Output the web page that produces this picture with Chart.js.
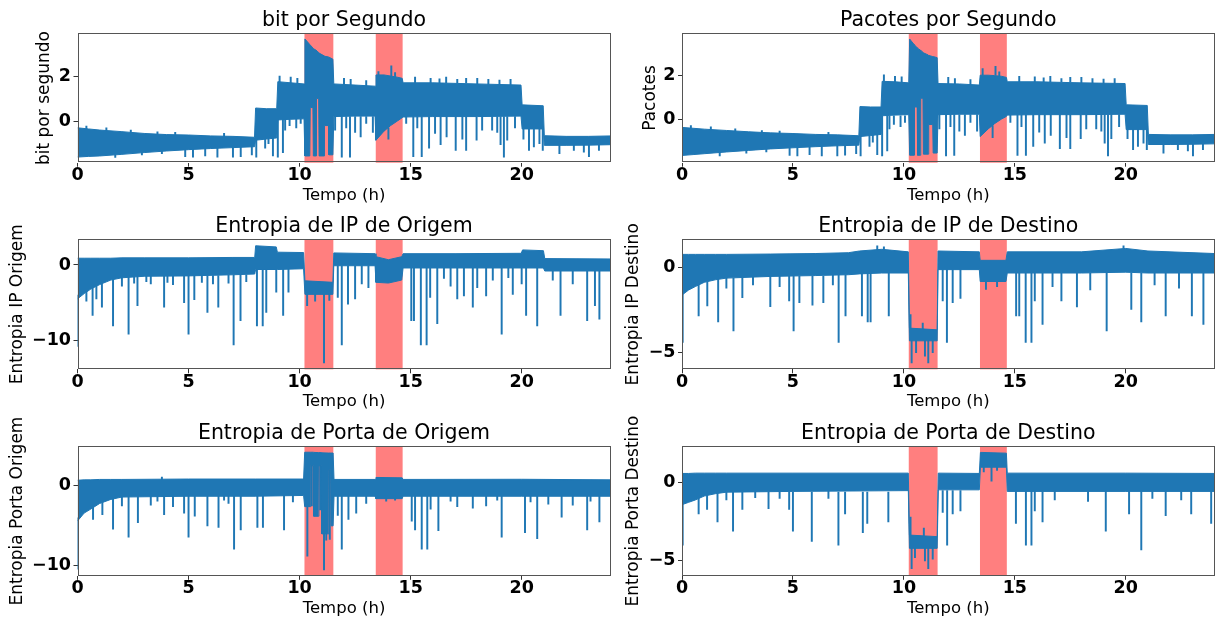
<!DOCTYPE html>
<html>
<head>
<meta charset="utf-8">
<script src="https://cdn.jsdelivr.net/npm/chart.js@4.4.1/dist/chart.umd.min.js"></script>
<style>
    body { margin: 0; background: #fff; width: 1217px; height: 624px; position: relative; overflow: hidden; }
    canvas { position: absolute; }
</style>
</head>
<body>
<canvas id="g1" width="617" height="210" style="left:0;top:0"></canvas>
<canvas id="g2" width="600" height="210" style="left:617px;top:0"></canvas>
<canvas id="g3" width="617" height="205" style="left:0;top:210px"></canvas>
<canvas id="g4" width="600" height="205" style="left:617px;top:210px"></canvas>
<canvas id="g5" width="617" height="209" style="left:0;top:415px"></canvas>
<canvas id="g6" width="600" height="209" style="left:617px;top:415px"></canvas>
<script>
const azul = "#1f77b4";
const faixas = [[10.22, 11.52], [13.43, 14.64]]; // periodos de ataque
const horas = [0, 5, 10, 15, 20];

// banda de ruido: [hora, topo, base]
// picos: [hora, inicio, fim]

// ===== bit por segundo =====
const bitsBanda = [
    [0.00, -0.30, -1.60], [0.50, -0.35, -1.57], [1.00, -0.40, -1.55], [2.00, -0.47, -1.48],
    [3.00, -0.55, -1.40], [4.00, -0.60, -1.33], [5.00, -0.62, -1.27], [6.00, -0.66, -1.22],
    [7.00, -0.68, -1.18], [7.97, -0.72, -1.14], [8.02, 0.58, -0.85], [8.50, 0.55, -0.80],
    [8.97, 0.55, -0.75], [9.02, 1.75, 0.05], [9.60, 1.70, 0.08], [10.20, 1.65, 0.10],
    [10.24, 3.65, -1.55], [10.46, 3.40, -1.55], [10.48, 3.38, 0.60], [10.60, 3.25, 0.60],
    [10.62, 3.22, -1.55], [10.74, 3.15, -1.55], [10.76, 3.12, 1.00], [10.86, 3.05, 1.00],
    [10.88, 3.02, -1.55], [11.10, 2.90, -1.55], [11.12, 2.88, -0.20], [11.30, 2.85, -0.20],
    [11.32, 2.85, -1.50], [11.50, 2.75, -1.50], [11.54, 1.65, 0.20], [12.50, 1.60, 0.22],
    [13.40, 1.55, 0.22], [13.44, 2.05, -0.85], [13.80, 2.05, -0.45], [14.10, 2.00, -0.20],
    [14.40, 1.95, 0.00], [14.62, 1.90, 0.15], [14.66, 1.70, 0.18], [16.00, 1.70, 0.20],
    [18.00, 1.65, 0.20], [19.97, 1.60, 0.22], [20.02, 0.72, -0.35], [20.97, 0.68, -0.35],
    [21.02, -0.65, -1.08], [22.00, -0.68, -1.08], [23.00, -0.68, -1.07], [24.00, -0.66, -1.05]
];
const bitsPicos = [
    [1.70, -1.40, -1.62], [4.85, -1.25, -1.58], [5.20, -1.25, -1.60], [5.75, -1.20, -1.55],
    [6.30, -1.20, -1.60], [7.00, -1.15, -1.60], [7.35, -1.15, -1.58], [7.85, -1.10, -1.50],
    [0.40, -0.50, -0.22], [1.30, -0.50, -0.30], [2.40, -0.60, -0.40], [3.60, -0.70, -0.48],
    [4.40, -0.70, -0.50], [6.60, -0.75, -0.55], [2.90, -1.30, -1.50], [3.80, -1.25, -1.45],
    [8.05, -0.70, -1.60], [8.45, -0.70, -1.20], [8.60, -0.70, -1.00], [8.80, -0.70, -1.55],
    [9.02, 0.10, -1.60], [9.25, 0.10, -1.40], [9.35, 0.10, -0.40], [9.55, 0.10, -0.20],
    [9.85, 0.10, -0.30], [10.05, 0.10, -0.10], [9.10, 1.70, 2.00], [9.60, 1.60, 1.95],
    [9.90, 1.60, 1.90], [11.60, 0.20, -0.40], [11.90, 0.20, -1.60], [12.10, 0.20, -0.30],
    [12.27, 0.20, -1.60], [12.50, 0.20, -0.50], [12.75, 0.20, -0.70], [13.00, 0.20, -0.10],
    [13.30, 0.20, -0.50], [12.00, 1.60, 1.90], [12.30, 1.60, 1.85], [13.00, 1.50, 1.80],
    [14.00, -0.30, -0.80], [13.55, 2.00, 2.20], [14.13, 2.00, 2.45], [14.30, 1.90, 2.15],
    [14.80, 0.20, -0.10], [15.12, 0.20, -1.58], [15.30, 0.20, -0.30], [15.50, 0.20, -1.58],
    [15.83, 0.20, -1.20], [16.10, 0.20, -0.55], [16.35, 0.20, -1.05], [16.62, 0.20, -0.70],
    [17.03, 0.20, -1.30], [17.33, 0.20, -0.80], [17.50, 0.20, -1.30], [17.97, 0.20, -0.85],
    [18.22, 0.20, -0.40], [18.67, 0.20, -0.40], [18.90, 0.20, -0.50], [19.05, 0.20, -1.05],
    [19.20, 0.20, -1.60], [19.35, 0.20, -0.85], [19.70, 0.20, -0.30], [15.20, 1.70, 1.95],
    [15.90, 1.70, 1.90], [16.60, 1.70, 1.95], [17.50, 1.70, 1.90], [18.50, 1.60, 1.85],
    [19.50, 1.60, 1.85], [16.30, 1.70, 1.88], [17.10, 1.70, 1.85], [18.00, 1.60, 1.90],
    [19.00, 1.60, 1.82], [20.08, -0.30, -0.80], [20.33, -0.30, -1.30], [20.55, -0.30, -1.15],
    [20.80, -0.30, -1.00], [20.95, -0.30, -1.30], [21.70, -1.00, -1.45], [22.35, -1.00, -1.30],
    [22.80, -1.00, -1.38], [23.03, -1.00, -1.58], [23.48, -1.00, -1.30]
];

// ===== pacotes por segundo =====
const pacBanda = [
    [0.00, -0.38, -1.66], [0.50, -0.42, -1.62], [1.00, -0.46, -1.58], [2.00, -0.52, -1.50],
    [3.00, -0.58, -1.43], [4.00, -0.63, -1.36], [5.00, -0.66, -1.31], [6.00, -0.70, -1.26],
    [7.00, -0.72, -1.22], [7.97, -0.76, -1.19], [8.02, 0.57, -0.80], [8.50, 0.55, -0.75],
    [8.97, 0.55, -0.70], [9.02, 1.72, 0.15], [9.60, 1.70, 0.18], [10.22, 1.65, 0.20],
    [10.26, 3.65, -1.65], [10.46, 3.40, -1.65], [10.48, 3.38, 0.55], [10.60, 3.25, 0.55],
    [10.62, 3.22, -1.65], [10.74, 3.15, -1.65], [10.76, 3.12, 0.95], [10.86, 3.05, 0.95],
    [10.88, 3.02, -1.60], [11.10, 2.92, -1.60], [11.12, 2.90, -0.25], [11.30, 2.85, -0.25],
    [11.32, 2.85, -1.55], [11.50, 2.80, -1.55], [11.54, 1.62, 0.20], [12.50, 1.60, 0.22],
    [13.40, 1.55, 0.22], [13.44, 2.00, -0.80], [13.80, 2.00, -0.45], [14.10, 1.98, -0.20],
    [14.40, 1.95, 0.00], [14.62, 1.90, 0.12], [14.66, 1.70, 0.18], [16.00, 1.70, 0.20],
    [18.00, 1.65, 0.20], [19.97, 1.62, 0.22], [20.02, 0.65, -0.48], [20.97, 0.62, -0.48],
    [21.02, -0.70, -1.16], [22.00, -0.72, -1.16], [23.00, -0.72, -1.15], [24.00, -0.70, -1.13]
];
const pacPicos = [
    [1.70, -1.45, -1.68], [4.85, -1.30, -1.66], [5.20, -1.30, -1.68], [5.75, -1.25, -1.62],
    [6.30, -1.25, -1.68], [7.00, -1.20, -1.68], [7.35, -1.20, -1.65], [7.85, -1.15, -1.58],
    [0.40, -0.55, -0.30], [1.30, -0.55, -0.36], [2.40, -0.65, -0.45], [3.60, -0.75, -0.52],
    [4.40, -0.75, -0.55], [6.60, -0.80, -0.60], [2.90, -1.35, -1.55], [3.80, -1.30, -1.50],
    [8.05, -0.70, -1.68], [8.45, -0.70, -1.25], [8.60, -0.70, -1.05], [8.80, -0.70, -1.62],
    [9.02, 0.15, -1.68], [9.25, 0.15, -1.45], [9.35, 0.15, -0.45], [9.55, 0.15, -0.25],
    [9.85, 0.15, -0.35], [10.05, 0.15, -0.15], [9.10, 1.70, 2.02], [9.60, 1.60, 1.95],
    [9.90, 1.60, 1.92], [11.60, 0.20, -0.45], [11.90, 0.20, -1.68], [12.10, 0.20, -0.35],
    [12.27, 0.20, -1.66], [12.50, 0.20, -0.55], [12.75, 0.20, -0.75], [13.00, 0.20, -0.15],
    [13.30, 0.20, -0.55], [12.00, 1.60, 1.90], [12.30, 1.60, 1.85], [13.00, 1.50, 1.80],
    [14.00, -0.30, -0.85], [13.55, 2.00, 2.30], [14.13, 2.00, 2.40], [14.30, 1.90, 2.15],
    [14.80, 0.20, -0.15], [15.12, 0.20, -1.66], [15.30, 0.20, -0.35], [15.50, 0.20, -1.66],
    [15.83, 0.20, -1.25], [16.10, 0.20, -0.60], [16.35, 0.20, -1.10], [16.62, 0.20, -0.75],
    [17.03, 0.20, -1.35], [17.33, 0.20, -0.85], [17.50, 0.20, -1.35], [17.97, 0.20, -0.90],
    [18.22, 0.20, -0.45], [18.67, 0.20, -0.45], [18.90, 0.20, -0.55], [19.05, 0.20, -1.10],
    [19.20, 0.20, -1.68], [19.35, 0.20, -0.90], [19.70, 0.20, -0.35], [15.20, 1.70, 1.95],
    [15.90, 1.70, 1.92], [16.60, 1.70, 1.95], [17.50, 1.70, 1.90], [18.50, 1.60, 1.85],
    [19.50, 1.60, 1.85], [16.30, 1.70, 1.88], [17.10, 1.70, 1.85], [18.00, 1.60, 1.90],
    [19.00, 1.60, 1.82], [20.08, -0.40, -0.90], [20.33, -0.40, -1.40], [20.55, -0.40, -1.25],
    [20.80, -0.40, -1.10], [20.95, -0.40, -1.40], [21.70, -1.05, -1.55], [22.35, -1.05, -1.40],
    [22.80, -1.05, -1.45], [23.03, -1.05, -1.68], [23.48, -1.05, -1.40]
];

// ===== entropia IP origem =====
const ipOrigBanda = [
    [0.00, 0.90, -4.50], [0.30, 0.90, -3.80], [0.60, 0.90, -3.20], [1.00, 0.90, -2.60],
    [1.50, 0.90, -2.00], [2.00, 0.95, -1.70], [3.00, 0.95, -1.50], [5.00, 0.95, -1.45],
    [7.00, 1.00, -1.30], [7.98, 1.00, -1.20], [8.02, 2.55, -0.60], [8.95, 2.40, -0.60],
    [9.00, 1.70, -0.60], [10.18, 1.65, -0.50], [10.24, -2.10, -3.90], [11.50, -2.30, -3.90],
    [11.54, 1.60, -0.10], [13.40, 1.50, -0.10], [13.44, 1.10, -2.30], [14.00, 0.70, -2.40],
    [14.60, 1.10, -2.00], [14.66, 1.50, -0.40], [17.00, 1.50, -0.40], [19.98, 1.55, -0.40],
    [20.04, 2.00, -0.40], [20.98, 1.90, -0.40], [21.04, 0.85, -0.80], [24.00, 0.80, -0.80]
];
const ipOrigPicos = [
    [0.02, -4.0, -10.8], [0.68, -2.5, -6.7], [0.85, -2.0, -4.5], [1.10, -2.0, -5.6],
    [1.60, -1.5, -8.1], [2.30, -1.5, -9.2], [2.70, -1.5, -5.4], [3.30, -1.4, -2.5],
    [3.90, -1.4, -5.6], [4.30, -1.4, -2.6], [4.80, -1.4, -5.0], [5.00, -1.4, -9.2],
    [5.26, -1.4, -4.6], [5.85, -1.4, -6.3], [6.34, -1.4, -5.6], [6.80, -1.3, -2.4],
    [2.00, -1.5, -2.8], [2.55, -1.5, -2.4], [3.10, -1.4, -2.2], [4.05, -1.4, -2.3],
    [5.60, -1.4, -2.3], [6.10, -1.4, -2.5], [7.60, -1.3, -2.2], [0.40, -3.5, -4.8],
    [7.03, -1.3, -10.6], [7.34, -1.3, -7.4], [8.08, -0.5, -8.1], [8.34, -0.5, -8.1],
    [8.50, -0.5, -6.3], [8.95, -0.5, -3.6], [9.26, -0.5, -6.7], [9.50, -0.5, -3.6],
    [10.34, -3.5, -5.4], [10.70, -3.5, -4.8], [11.10, -3.5, -13.0], [11.34, -3.5, -4.7],
    [11.72, -0.1, -4.3], [11.90, -0.1, -10.6], [12.18, -0.1, -5.2], [12.50, -0.1, -4.5],
    [12.80, -0.1, -2.5], [13.10, -0.1, -3.0], [15.03, -0.4, -7.4], [15.15, -0.4, -7.4],
    [15.46, -0.4, -10.6], [15.72, -0.4, -10.6], [15.88, -0.4, -4.3], [16.20, -0.4, -7.8],
    [16.80, -0.4, -2.8], [17.10, -0.4, -4.5], [17.40, -0.4, -4.1], [17.80, -0.4, -5.6],
    [18.00, -0.4, -3.0], [18.40, -0.4, -4.1], [19.10, -0.4, -9.2], [19.60, -0.4, -3.9],
    [16.50, -0.4, -1.8], [18.70, -0.4, -2.0], [19.40, -0.4, -1.7], [21.40, -0.8, -2.0],
    [20.00, -0.4, -2.5], [20.20, -0.4, -6.7], [20.70, -0.4, -8.1], [21.75, -0.8, -6.7],
    [22.30, -0.8, -2.5], [22.95, -0.8, -7.4], [23.30, -0.8, -5.4], [23.50, -0.8, -7.2]
];

// ===== entropia IP destino =====
const ipDestBanda = [
    [0.00, 0.80, -1.60], [0.30, 0.80, -1.30], [0.60, 0.80, -1.10], [1.00, 0.80, -0.85],
    [1.50, 0.80, -0.70], [2.00, 0.80, -0.60], [4.00, 0.82, -0.50], [6.00, 0.85, -0.45],
    [7.50, 0.90, -0.40], [8.00, 1.00, -0.35], [9.00, 1.10, -0.30], [10.20, 0.95, -0.30],
    [10.25, -3.55, -4.30], [11.50, -3.65, -4.30], [11.54, 1.00, -0.10], [13.40, 0.95, -0.10],
    [13.44, 0.45, -0.80], [14.60, 0.45, -0.80], [14.66, 0.95, -0.30], [18.00, 0.95, -0.30],
    [20.00, 1.15, -0.25], [21.00, 1.00, -0.30], [24.00, 0.85, -0.30]
];
const ipDestPicos = [
    [0.03, -1.2, -4.4], [0.75, -0.8, -2.83], [1.14, -0.8, -2.24], [1.63, -0.6, -3.19],
    [2.32, -0.6, -3.72], [2.72, -0.6, -1.75], [3.98, -0.5, -2.28], [4.83, -0.5, -1.95],
    [5.03, -0.5, -3.72], [5.29, -0.5, -2.05], [5.88, -0.5, -2.2], [6.37, -0.5, -2.05],
    [2.00, -0.5, -1.2], [3.20, -0.5, -1.0], [4.40, -0.5, -1.1], [6.80, -0.4, -1.0],
    [7.06, -0.4, -4.4], [7.37, -0.4, -2.83], [8.11, -0.3, -2.83], [8.37, -0.3, -3.19],
    [8.50, -0.3, -3.19], [9.32, -0.3, -2.83], [10.30, -3.8, -2.75], [10.35, -4.0, -5.6],
    [10.55, -4.0, -5.0], [10.85, -3.8, -3.25], [10.95, -4.0, -5.2], [11.10, -4.0, -5.6],
    [11.30, -4.0, -5.0], [13.70, -0.6, -1.26], [14.20, -0.6, -1.1], [11.75, -0.1, -1.95],
    [11.94, -0.1, -4.4], [12.20, -0.1, -2.05], [12.55, -0.1, -1.8], [15.06, -0.3, -2.83],
    [15.20, -0.3, -2.83], [15.49, -0.3, -4.4], [15.75, -0.3, -4.4], [15.90, -0.3, -1.95],
    [16.25, -0.3, -3.33], [17.10, -0.3, -1.95], [17.80, -0.3, -2.3], [19.14, -0.3, -3.72],
    [16.70, -0.3, -1.1], [18.40, -0.3, -1.3], [21.30, -0.3, -1.0], [22.40, -0.3, -1.2],
    [20.25, -0.3, -2.44], [20.70, -0.3, -3.19], [21.80, -0.3, -2.83], [22.98, -0.3, -2.83],
    [23.50, -0.3, -3.33], [8.80, 0.9, 1.3], [9.10, 0.9, 1.25], [19.90, 0.9, 1.3]
];

// ===== entropia porta origem =====
const portaOrigBanda = [
    [0.00, 0.70, -4.40], [0.30, 0.75, -3.40], [0.60, 0.75, -2.90], [1.00, 0.80, -2.20],
    [1.50, 0.80, -1.70], [2.00, 0.80, -1.40], [5.00, 0.85, -1.30], [8.00, 0.85, -1.30],
    [10.18, 0.85, -1.20], [10.23, 4.20, -2.60], [10.48, 4.20, -2.60], [10.50, 4.20, 2.50],
    [10.62, 4.20, 2.50], [10.64, 4.18, -3.80], [10.85, 4.15, -3.80], [10.87, 4.15, 2.50],
    [10.98, 4.15, 2.50], [11.00, 4.12, -6.00], [11.30, 4.10, -6.00], [11.32, 4.10, 2.00],
    [11.40, 4.10, 2.00], [11.42, 4.10, -5.00], [11.51, 4.10, -5.00], [11.55, 0.80, -1.30],
    [13.40, 0.80, -1.30], [13.44, 1.05, -1.60], [14.62, 1.00, -1.60], [14.66, 0.80, -1.30],
    [20.00, 0.82, -1.30], [24.00, 0.75, -1.30]
];
const portaOrigPicos = [
    [0.02, -4.0, -10.4], [0.70, -2.0, -4.2], [1.12, -2.0, -3.6], [1.60, -1.0, -5.4],
    [2.00, -1.0, -2.5], [2.30, -1.0, -6.4], [2.72, -1.0, -4.6], [3.30, -1.0, -2.4],
    [3.90, -1.0, -3.6], [4.30, -1.0, -2.6], [4.80, -1.0, -3.4], [5.00, -1.0, -6.4],
    [5.28, -1.0, -3.8], [5.85, -1.0, -5.0], [6.35, -1.0, -5.2], [6.80, -1.0, -2.2],
    [7.05, -1.0, -7.9], [7.35, -1.0, -5.5], [8.10, -1.0, -5.2], [8.35, -1.0, -5.2],
    [9.30, -1.0, -5.5], [10.35, -1.0, -8.8], [10.55, 2.6, -2.5], [10.93, 2.6, -3.0],
    [11.10, -5.0, -10.5], [11.20, -5.0, -6.8], [11.36, 2.0, -6.7], [11.72, -1.0, -3.7],
    [11.90, -1.0, -7.9], [12.20, -1.0, -4.2], [12.55, -1.0, -3.4], [13.00, -1.0, -2.2],
    [13.90, -1.3, -1.9], [14.30, -1.3, -1.8], [15.05, -1.0, -4.4], [15.20, -1.0, -5.5],
    [15.50, -1.0, -7.9], [15.75, -1.0, -7.9], [15.90, -1.0, -2.9], [16.25, -1.0, -5.6],
    [17.10, -1.0, -2.6], [17.80, -1.0, -2.8], [18.40, -1.0, -2.5], [19.10, -1.0, -6.4],
    [3.60, -1.0, -1.9], [6.60, -1.0, -1.8], [9.70, -1.0, -2.0], [16.80, -1.0, -1.9],
    [18.90, -1.0, -1.8], [20.40, -1.0, -2.0], [23.10, -1.0, -1.9], [3.80, 0.7, 1.1],
    [20.15, -1.0, -5.85], [20.70, -1.0, -6.6], [21.20, -1.0, -2.3], [21.80, -1.0, -3.9],
    [22.30, -1.0, -2.4], [22.95, -1.0, -5.5], [23.50, -1.0, -4.5]
];

// ===== entropia porta destino =====
const portaDestBanda = [
    [0.00, 0.60, -1.40], [0.30, 0.60, -1.25], [0.60, 0.62, -1.10], [1.00, 0.62, -0.85],
    [1.50, 0.62, -0.70], [2.00, 0.62, -0.60], [5.00, 0.62, -0.55], [10.20, 0.62, -0.50],
    [10.25, -3.35, -4.20], [11.50, -3.45, -4.20], [11.55, 0.62, -0.45], [13.40, 0.60, -0.45],
    [13.45, 1.95, 1.00], [14.62, 1.90, 1.00], [14.66, 0.62, -0.55], [20.00, 0.62, -0.55],
    [24.00, 0.60, -0.55]
];
const portaDestPicos = [
    [0.03, -1.0, -4.0], [0.75, -0.8, -2.0], [1.13, -0.8, -1.7], [1.60, -0.6, -2.5],
    [2.30, -0.6, -3.1], [2.72, -0.6, -1.7], [3.90, -0.6, -1.65], [4.83, -0.6, -1.7],
    [5.00, -0.6, -3.1], [5.85, -0.6, -3.75], [7.05, -0.6, -4.0], [7.35, -0.6, -2.0],
    [8.15, -0.6, -3.2], [8.35, -0.6, -2.6], [9.30, -0.6, -2.5], [10.30, -3.5, -2.2],
    [2.00, -0.5, -1.1], [3.30, -0.5, -0.95], [4.40, -0.5, -1.0], [6.60, -0.5, -1.0],
    [10.35, -4.0, -5.5], [10.50, -4.0, -4.8], [10.90, -3.5, -2.9], [10.95, -4.0, -5.0],
    [11.10, -4.0, -5.5], [11.30, -4.0, -4.9], [13.60, 1.2, 0.7], [13.95, 1.2, 0.1],
    [14.20, 1.2, 0.8], [11.75, -0.5, -1.9], [11.95, -0.5, -4.0], [12.20, -0.5, -2.0],
    [12.55, -0.5, -1.8], [15.05, -0.5, -2.6], [15.50, -0.5, -4.0], [15.75, -0.5, -4.0],
    [15.90, -0.5, -1.8], [16.25, -0.5, -2.5], [19.10, -0.5, -3.1], [20.15, -0.5, -2.0],
    [16.80, -0.5, -1.1], [18.30, -0.5, -1.2], [21.20, -0.5, -1.0], [22.50, -0.5, -1.1],
    [20.70, -0.5, -4.3], [21.80, -0.5, -2.1], [22.95, -0.5, -2.0], [23.85, -0.5, -2.6]
];

Chart.defaults.font.family = "'DejaVu Sans', sans-serif";
Chart.defaults.color = "#000";

// retangulos vermelhos por tras dos dados
const pluginFaixas = {
    id: "faixas",
    beforeDatasetsDraw(chart) {
        const { ctx, chartArea: a, scales: { x } } = chart;
        ctx.save();
        ctx.fillStyle = "rgba(255, 0, 0, 0.5)";
        faixas.forEach(f => {
            const x1 = x.getPixelForValue(f[0]);
            const x2 = x.getPixelForValue(f[1]);
            ctx.fillRect(x1, a.top, x2 - x1, a.bottom - a.top);
        });
        ctx.restore();
    }
};

// moldura + rotulo do eixo y (sem limite de largura)
const pluginMoldura = {
    id: "moldura",
    afterDraw(chart, args, opts) {
        const { ctx, chartArea: a } = chart;
        ctx.save();
        ctx.strokeStyle = "#555";
        ctx.lineWidth = 1;
        ctx.strokeRect(Math.round(a.left) + 0.5, Math.round(a.top) + 0.5,
            Math.round(a.right - a.left) - 1, Math.round(a.bottom - a.top) - 1);
        ctx.translate(opts.x, (a.top + a.bottom) / 2);
        ctx.rotate(-Math.PI / 2);
        ctx.fillStyle = "#000";
        ctx.font = "17px 'DejaVu Sans'";
        ctx.textAlign = "center";
        ctx.textBaseline = "middle";
        ctx.fillText(opts.texto, 0, 0);
        ctx.restore();
    }
};

const linhas = [
    { pt: 8, pb: 0.7, baixo: 4.8 },
    { pt: 4.4, pb: 0.3, baixo: 3.2 },
    { pt: 6, pb: 0.7, baixo: 5.7 }
];
const colunas = [
    { eixo: 77.5, dir: 6.5 },
    { eixo: 65, dir: 2.5 }
];

function menos(v) {
    return String(v).replace("-", "\u2212");
}

function grafico(id, linha, coluna, titulo, rotulo, rotuloX, banda, picos, yMin, yMax, yTicks) {
    const L = linhas[linha];
    const C = colunas[coluna];
    const altX = 210 - 162.7 - 7.8 + 7.8 - L.baixo; // altura do eixo x
    return new Chart(document.getElementById(id), {
        type: "line",
        data: {
            datasets: [
                {
                    data: banda.map(p => ({ x: p[0], y: p[1] })),
                    borderColor: azul,
                    backgroundColor: azul,
                    borderWidth: 1,
                    pointRadius: 0,
                    tension: 0,
                    fill: "+1"
                },
                {
                    data: banda.map(p => ({ x: p[0], y: p[2] })),
                    borderColor: azul,
                    borderWidth: 1,
                    pointRadius: 0,
                    tension: 0,
                    fill: false
                },
                {
                    type: "bar",
                    data: picos.map(p => ({ x: p[0], y: [p[1], p[2]] })),
                    backgroundColor: azul,
                    borderWidth: 0,
                    barThickness: 1.3,
                    grouped: false
                }
            ]
        },
        options: {
            responsive: false,
            animation: false,
            events: [],
            layout: { padding: { left: 0, right: C.dir, top: 0, bottom: L.baixo } },
            plugins: {
                legend: { display: false },
                tooltip: { enabled: false },
                title: {
                    display: true,
                    text: titulo,
                    fullSize: false,
                    color: "#000",
                    font: { size: 20.5, weight: "normal" },
                    padding: { top: L.pt, bottom: L.pb }
                },
                moldura: { texto: rotulo, x: rotuloX }
            },
            scales: {
                x: {
                    type: "linear",
                    min: 0,
                    max: 24,
                    offset: false,
                    afterBuildTicks: s => { s.ticks = horas.map(v => ({ value: v })); },
                    afterFit: s => { s.height = 42.5; },
                    grid: { display: true, offset: false, drawOnChartArea: false, drawTicks: true, tickLength: 4, color: "#333" },
                    border: { display: false },
                    ticks: { padding: 0, maxRotation: 0, font: { size: 17.5, weight: "bold", lineHeight: 1.0 }, color: "#000" },
                    title: { display: true, text: "Tempo (h)", color: "#000", font: { size: 16.5 }, padding: { top: 0, bottom: 0 } }
                },
                y: {
                    min: yMin,
                    max: yMax,
                    afterBuildTicks: s => { s.ticks = yTicks.map(v => ({ value: v })); },
                    afterFit: s => { s.width = C.eixo; },
                    grid: { display: true, drawOnChartArea: false, drawTicks: true, tickLength: 4, color: "#333" },
                    border: { display: false },
                    ticks: { padding: 2.5, callback: v => menos(v), font: { size: 17.5, weight: "bold" }, color: "#000" }
                }
            }
        },
        plugins: [pluginFaixas, pluginMoldura]
    });
}

grafico("g1", 0, 0, "bit por Segundo", "bit por segundo", 44.7, bitsBanda, bitsPicos, -1.85, 3.9, [0, 2]);
grafico("g2", 0, 1, "Pacotes por Segundo", "Pacotes", 33.8, pacBanda, pacPicos, -1.99, 3.91, [0, 2]);
grafico("g3", 1, 0, "Entropia de IP de Origem", "Entropia IP Origem", 18, ipOrigBanda, ipOrigPicos, -13.85, 3.41, [-10, 0]);
grafico("g4", 1, 1, "Entropia de IP de Destino", "Entropia IP Destino", 17, ipDestBanda, ipDestPicos, -5.98, 1.69, [-5, 0]);
grafico("g5", 2, 0, "Entropia de Porta de Origem", "Entropia Porta Origem", 18, portaOrigBanda, portaOrigPicos, -11.24, 4.94, [-10, 0]);
grafico("g6", 2, 1, "Entropia de Porta de Destino", "Entropia Porta Destino", 17, portaDestBanda, portaDestPicos, -5.96, 2.34, [-5, 0]);
</script>
</body>
</html>
